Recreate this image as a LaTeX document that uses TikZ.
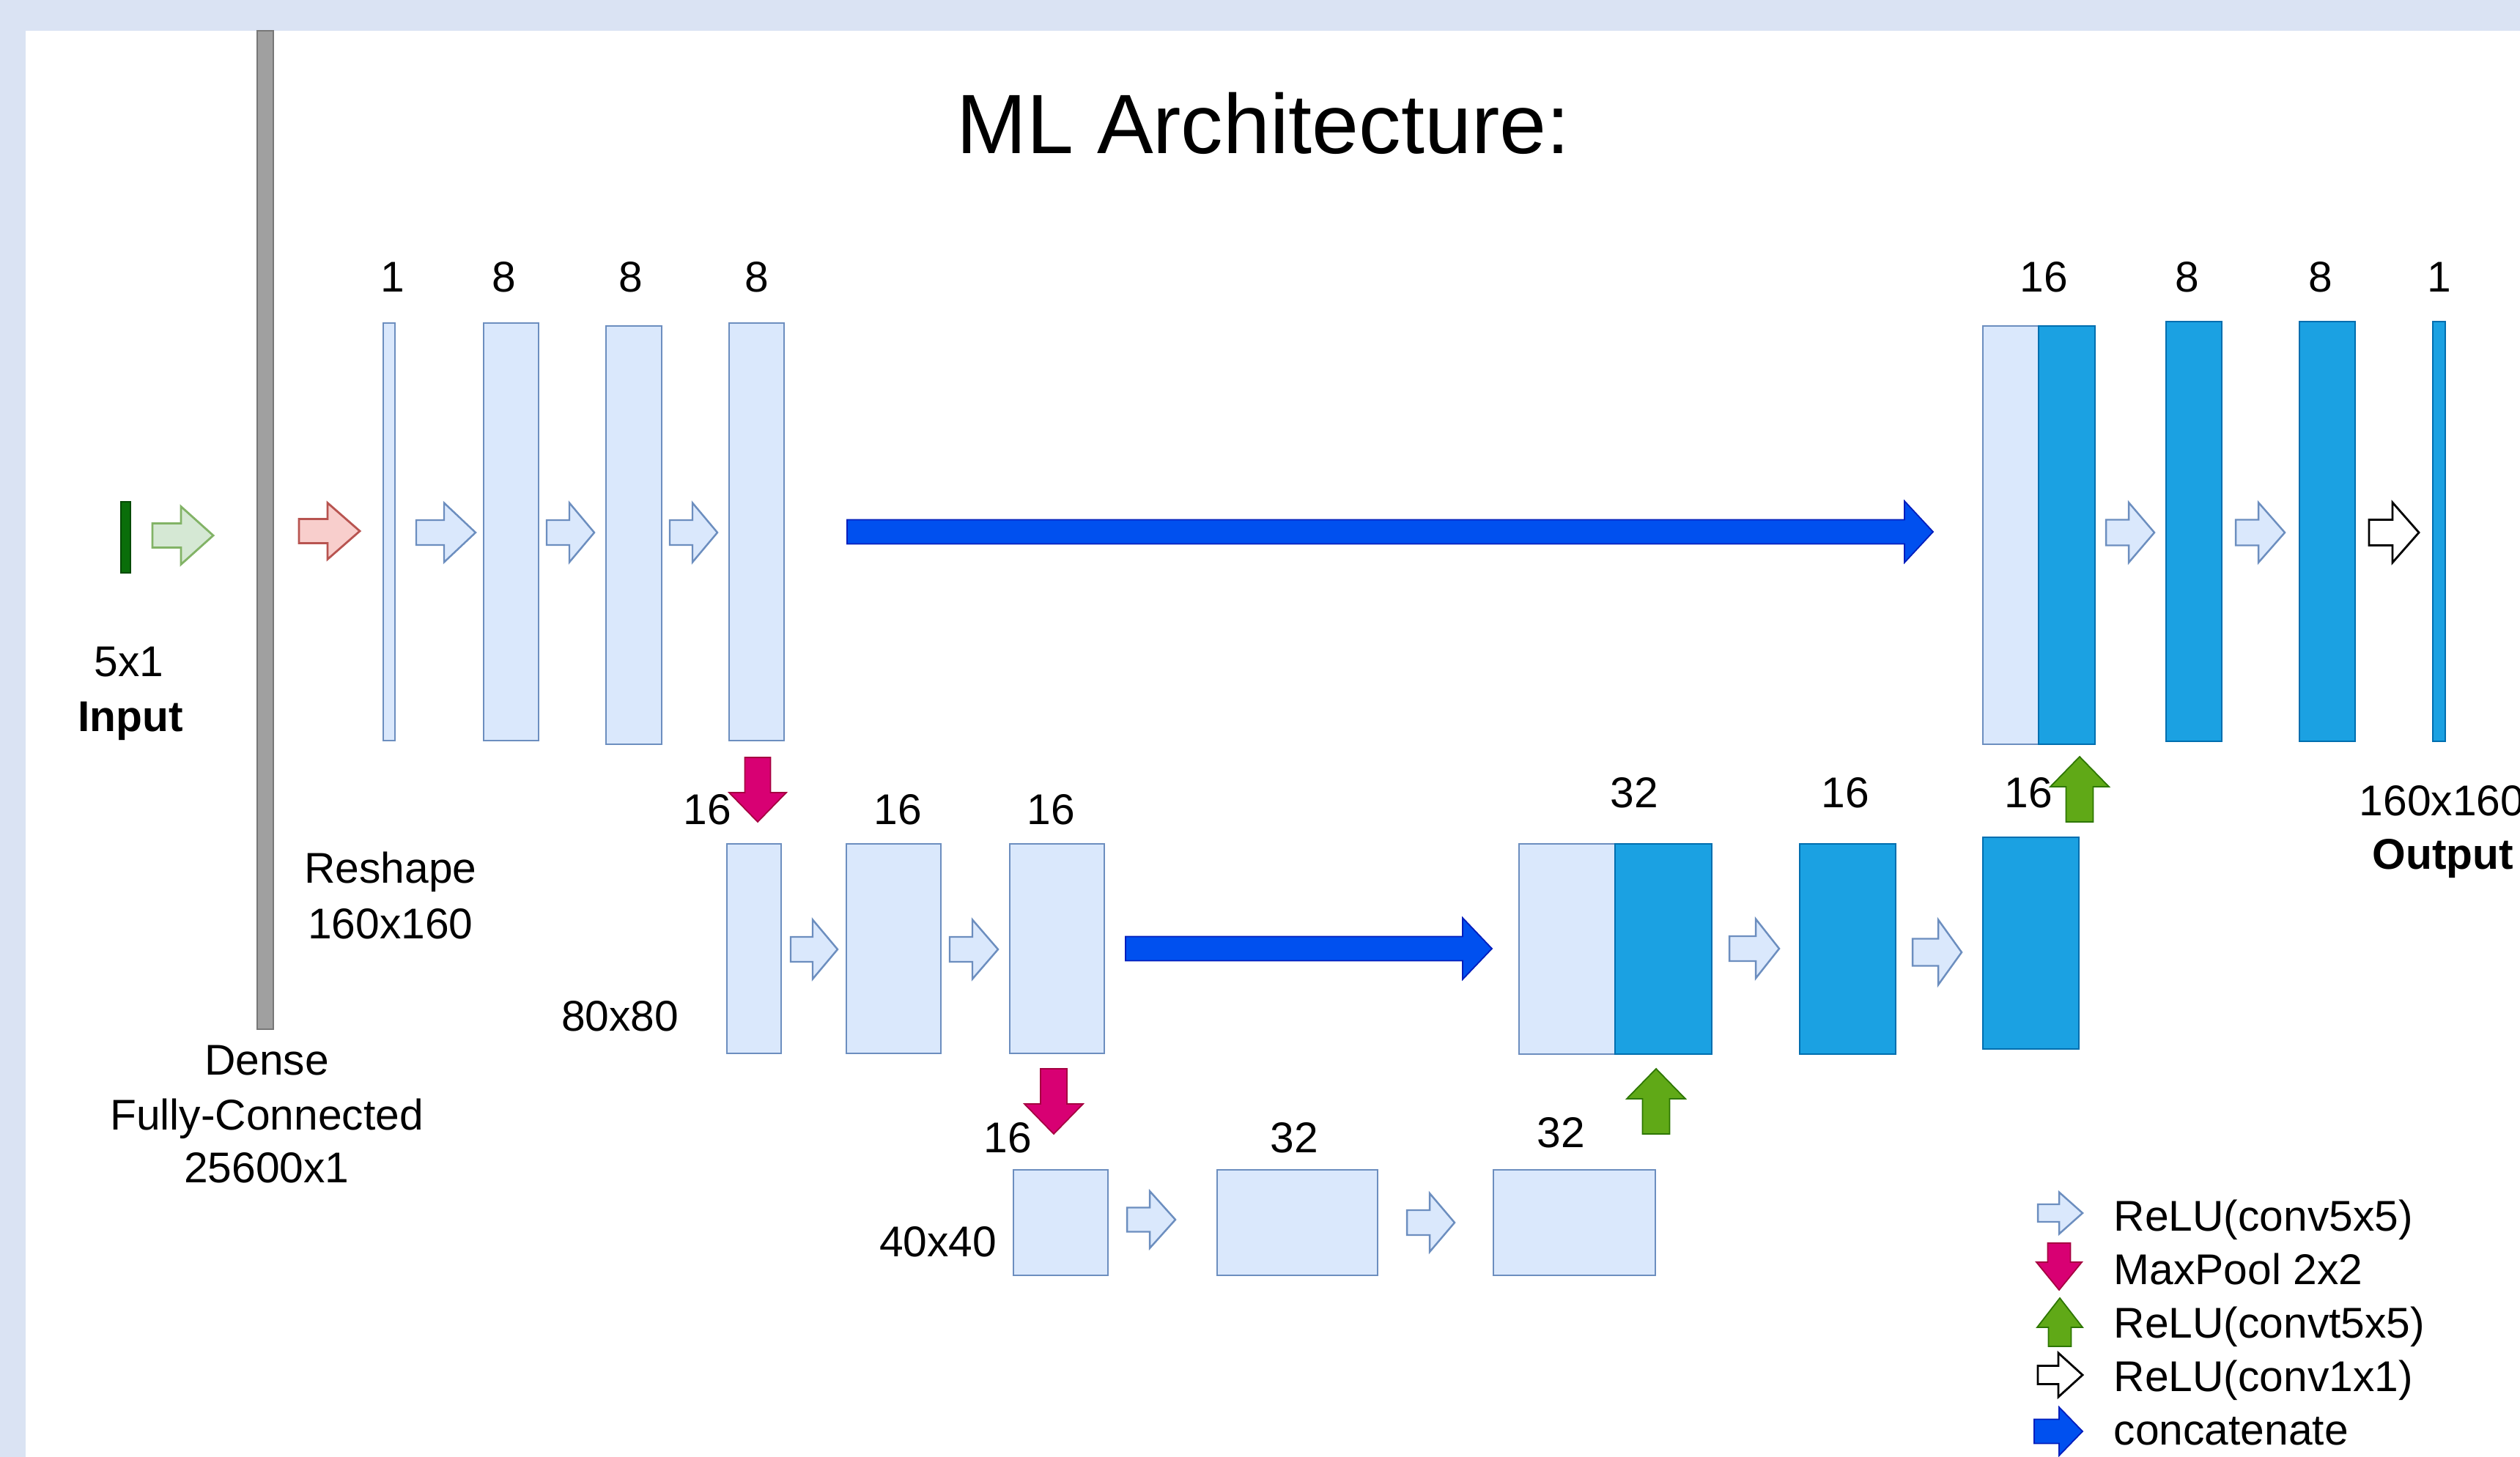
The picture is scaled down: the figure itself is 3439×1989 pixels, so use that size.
\documentclass[tikz,border=0pt]{standalone}
\usepackage{fontspec}
\setmainfont{Liberation Sans}
\usetikzlibrary{fit}
\definecolor{bgblue}{HTML}{DAE3F3}
\definecolor{lbfill}{HTML}{DAE8FC}
\definecolor{lbdraw}{HTML}{6C8EBF}
\definecolor{dkfill}{HTML}{1BA1E2}
\definecolor{dkdraw}{HTML}{006EAF}
\definecolor{redfill}{HTML}{D80073}
\definecolor{reddraw}{HTML}{A50040}
\definecolor{grnfill}{HTML}{60A917}
\definecolor{grndraw}{HTML}{2D7600}
\definecolor{catfill}{HTML}{0050EF}
\definecolor{catdraw}{HTML}{001DBC}
\definecolor{lgfill}{HTML}{D5E8D4}
\definecolor{lgdraw}{HTML}{82B366}
\definecolor{lrfill}{HTML}{F8CECC}
\definecolor{lrdraw}{HTML}{B85450}
\definecolor{inpfill}{HTML}{0A6E0A}
\definecolor{inpdraw}{HTML}{064A06}
\definecolor{barfill}{HTML}{A0A0A0}
\definecolor{bardraw}{HTML}{777777}
% horizontal block arrow: style, xtail, xheadstart, xtip, yc, H, bodyH
\newcommand\HArrow[7]{%
  \pgfmathsetmacro\arA{#5-0.5*#7}%
  \pgfmathsetmacro\arB{#5+0.5*#7}%
  \pgfmathsetmacro\arC{#5-0.5*#6}%
  \pgfmathsetmacro\arD{#5+0.5*#6}%
  \draw[#1] (#2,\arA) -- (#3,\arA) -- (#3,\arC) -- (#4,#5) -- (#3,\arD) -- (#3,\arB) -- (#2,\arB) -- cycle;}
% vertical block arrow: style, xc, ytail, yheadstart, ytip, W, bodyW
\newcommand\VArrow[7]{%
  \pgfmathsetmacro\arA{#2-0.5*#7}%
  \pgfmathsetmacro\arB{#2+0.5*#7}%
  \pgfmathsetmacro\arC{#2-0.5*#6}%
  \pgfmathsetmacro\arD{#2+0.5*#6}%
  \draw[#1] (\arA,#3) -- (\arA,#4) -- (\arC,#4) -- (#2,#5) -- (\arD,#4) -- (\arB,#4) -- (\arB,#3) -- cycle;}
\tikzset{
  light/.style={draw=lbdraw, fill=lbfill, line width=0.8pt, inner sep=0pt, outer sep=0pt},
  dark/.style={draw=dkdraw, fill=dkfill, line width=0.8pt, inner sep=0pt, outer sep=0pt},
  lbl/.style={inner sep=0pt, anchor=base, font=\fontsize{16.7pt}{20pt}\selectfont},
  blbl/.style={lbl, font=\fontsize{16.7pt}{20pt}\selectfont\bfseries},
  convar/.style={draw=lbdraw, fill=lbfill, line width=0.7pt, line join=miter},
  onear/.style={draw=black, fill=white, line width=0.8pt, line join=miter},
  poolar/.style={draw=reddraw, fill=redfill, line width=0.5pt},
  upar/.style={draw=grndraw, fill=grnfill, line width=0.5pt},
  catar/.style={draw=catdraw, fill=catfill, line width=0.5pt},
}
\begin{document}
\begin{tikzpicture}[x=0.01cm,y=-0.01cm]
\useasboundingbox (0,0) rectangle (3439,1989);
\fill[bgblue] (0,0) rectangle (3439,1989);
\fill[white] (35,42) rectangle (3439,1989);

% title
\node[inner sep=0pt, anchor=base, font=\fontsize{32.7pt}{39pt}\selectfont] (title) at (1724,210) {ML Architecture:};

% input and dense
\node[draw=inpdraw, fill=inpfill, line width=0.6pt, inner sep=0pt, fit={(165,685) (178,782)}] (inp) {};
\node[draw=bardraw, fill=barfill, line width=0.8pt, inner sep=0pt, fit={(351,42) (373,1405)}] (dense) {};
\HArrow{draw=lgdraw, fill=lgfill, line width=0.8pt}{208}{247}{291}{731}{79}{33}
\HArrow{draw=lrdraw, fill=lrfill, line width=0.8pt}{408}{447}{491}{725}{77}{33}
\node[lbl] (t5x1) at (176,924) {5x1};
\node[blbl] (tinput) at (178,999) {Input};
\node[lbl] (tres) at (533,1206) {Reshape};
\node[lbl] (tres2) at (533,1282) {160x160};
\node[lbl] (tdense) at (364,1467) {Dense};
\node[lbl] (tfc) at (364,1542) {Fully-Connected};
\node[lbl] (t25600) at (364,1614) {25600x1};

% top row (encoder)
\node[light, fit={(523,441) (539,1011)}] (L1) {};
\node[light, fit={(660,441) (735,1011)}] (L2) {};
\node[light, fit={(827,445) (903,1016)}] (L3) {};
\node[light, fit={(995,441) (1070,1011)}] (L4) {};
\node[lbl] (tL1) at (536,399) {1};
\node[lbl] (tL2) at (688,399) {8};
\node[lbl] (tL3) at (861,399) {8};
\node[lbl] (tL4) at (1033,399) {8};
\HArrow{convar}{568}{606}{649}{727}{81}{34}
\HArrow{convar}{746}{777}{811}{727}{81}{34}
\HArrow{convar}{914}{945}{979}{727}{81}{34}

% top row (decoder)
\node[light, fit={(2706,445) (2782,1016)}] (C1a) {};
\node[dark, fit={(2782,445) (2859,1016)}] (C1b) {};
\node[dark, fit={(2956,439) (3032,1012)}] (R2) {};
\node[dark, fit={(3138,439) (3214,1012)}] (R3) {};
\node[dark, fit={(3320,439) (3337,1012)}] (R4) {};
\node[lbl] (tC1) at (2789,399) {16};
\node[lbl] (tR2) at (2985,399) {8};
\node[lbl] (tR3) at (3167,399) {8};
\node[lbl] (tR4) at (3329,399) {1};
\HArrow{convar}{2874}{2905}{2940}{727}{82}{35}
\HArrow{convar}{3051}{3082}{3118}{727}{82}{35}
\HArrow{onear}{3233}{3265}{3301}{727}{82}{35}
\node[lbl, anchor=base west] (tout1) at (3219,1114) {160x160};
\node[blbl, anchor=base west] (tout2) at (3237,1187) {Output};

% skip connection top
\HArrow{catar}{1156}{2599}{2638}{726}{84}{33}

% middle row
\node[light, fit={(992,1152) (1066,1438)}] (M1) {};
\node[light, fit={(1155,1152) (1284,1438)}] (M2) {};
\node[light, fit={(1378,1152) (1507,1438)}] (M3) {};
\node[light, fit={(2073,1152) (2204,1439)}] (MCa) {};
\node[dark, fit={(2204,1152) (2336,1439)}] (MCb) {};
\node[dark, fit={(2456,1152) (2587,1439)}] (M5) {};
\node[dark, fit={(2706,1143) (2837,1432)}] (M6) {};
\node[lbl] (tM1) at (965,1126) {16};
\node[lbl] (tM2) at (1225,1126) {16};
\node[lbl] (tM3) at (1434,1126) {16};
\node[lbl] (tMC) at (2230,1103) {32};
\node[lbl] (tM5) at (2518,1103) {16};
\node[lbl] (tM6) at (2768,1103) {16};
\node[lbl] (t80) at (846,1407) {80x80};
\HArrow{convar}{1079}{1109}{1143}{1296}{81}{34}
\HArrow{convar}{1296}{1327}{1362}{1296}{81}{34}
\HArrow{convar}{2360}{2396}{2428}{1295}{81}{34}
\HArrow{convar}{2610}{2645}{2677}{1300}{89}{37}
\HArrow{catar}{1536}{1996}{2036}{1295}{84}{33}

% bottom row
\node[light, fit={(1383,1597) (1512,1741)}] (B1) {};
\node[light, fit={(1661,1597) (1880,1741)}] (B2) {};
\node[light, fit={(2038,1597) (2259,1741)}] (B3) {};
\node[lbl] (tB1) at (1375,1573) {16};
\node[lbl] (tB2) at (1766,1573) {32};
\node[lbl] (tB3) at (2130,1566) {32};
\node[lbl] (t40) at (1280,1715) {40x40};
\HArrow{convar}{1538}{1569}{1604}{1665}{78}{33}
\HArrow{convar}{1920}{1951}{1985}{1669}{80}{34}

% pooling / upsampling
\VArrow{poolar}{1034}{1034}{1082}{1122}{78}{35}
\VArrow{poolar}{1438}{1459}{1507}{1548}{80}{36}
\VArrow{upar}{2260}{1548}{1500}{1459}{80}{37}
\VArrow{upar}{2838}{1122}{1074}{1033}{80}{37}

% legend
\HArrow{convar}{2781}{2810}{2842}{1656}{57}{24}
\VArrow{poolar}{2810}{1697}{1723}{1761}{62}{31}
\VArrow{upar}{2811}{1838}{1812}{1772}{62}{31}
\HArrow{onear}{2781}{2809}{2842}{1877}{60}{25}
\HArrow{catar}{2776}{2810}{2842}{1954}{66}{33}
\node[lbl, anchor=base west] (lg1) at (2884,1680) {ReLU(conv5x5)};
\node[lbl, anchor=base west] (lg2) at (2884,1753) {MaxPool 2x2};
\node[lbl, anchor=base west] (lg3) at (2884,1826) {ReLU(convt5x5)};
\node[lbl, anchor=base west] (lg4) at (2884,1899) {ReLU(conv1x1)};
\node[lbl, anchor=base west] (lg5) at (2884,1972) {concatenate};
\end{tikzpicture}
\end{document}
